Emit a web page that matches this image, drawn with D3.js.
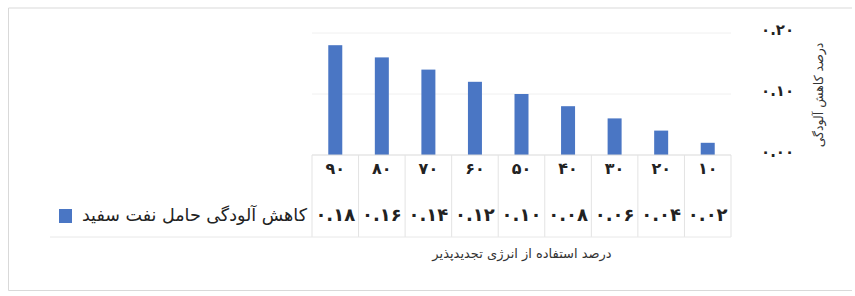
<!DOCTYPE html>
<html><head><meta charset="utf-8">
<script src="https://cdn.jsdelivr.net/npm/d3@7"></script>
<style>body{margin:0;background:#fff}svg{display:block}text{font-family:"DejaVu Sans",sans-serif}</style>
</head><body><svg id="c" width="855" height="296"></svg>
<script>
const categories = [10, 20, 30, 40, 50, 60, 70, 80, 90];
const values = [0.02, 0.04, 0.06, 0.08, 0.10, 0.12, 0.14, 0.16, 0.18];
const yTicks = [0, 0.1, 0.2];
const seriesName = "کاهش آلودگی حامل نفت سفید";
const xTitle = "درصد استفاده از انرژی تجدیدپذیر";
const yTitle = "درصد کاهش آلودگی";

const fa = s => String(s).replace(/\d/g, d => "۰۱۲۳۴۵۶۷۸۹"[d]);
const svg = d3.select("#c");
// chart border
svg.append("path").attr("d","M852,8 H8.5 V290.5 H852").attr("fill","none").attr("stroke","#d9d9d9");

const x = d3.scaleBand().domain(categories).range([731, 312]).paddingInner(0).paddingOuter(0);
const y = d3.scaleLinear().domain([0, 0.2]).range([155, 33]);

// gridlines
svg.append("g").selectAll("line").data(yTicks.slice(1)).join("line")
  .attr("x1",312).attr("x2",731).attr("y1",d=>y(d)).attr("y2",d=>y(d))
  .attr("stroke","#f0f0f0");

// bars
const bw = 14;
svg.append("g").selectAll("rect").data(categories).join("rect")
  .attr("x",(d)=>x(d)+x.bandwidth()/2-bw/2)
  .attr("y",(d,i)=>y(values[i]))
  .attr("width",bw)
  .attr("height",(d,i)=>y(0)-y(values[i]))
  .attr("fill","#4a76c4");

// y axis labels (right)
const yAxis = d3.axisRight(y).tickValues(yTicks).tickSize(0).tickFormat(d=>fa(d3.format(".2f")(d)));
const ga = svg.append("g").attr("transform","translate(758,-3)").call(yAxis);
ga.select(".domain").remove();
ga.selectAll("text").attr("font-size",15).attr("font-weight","bold").attr("fill","#222");

// y title
svg.append("text").attr("transform","translate(823,95) rotate(-90)")
  .attr("text-anchor","middle").attr("font-size",12.5).attr("fill","#333").text(yTitle);

// data table
const tg = svg.append("g");
tg.append("line").attr("x1",312).attr("x2",731).attr("y1",y(0)).attr("y2",y(0)).attr("stroke","#d9d9d9");
const bounds = categories.map(c=>x(c)).concat([x(categories[0])+x.bandwidth()]);
tg.selectAll("line.v").data(bounds).join("line").attr("class","v")
  .attr("x1",d=>d).attr("x2",d=>d).attr("y1",y(0)).attr("y2",237).attr("stroke","#e3e3e3");
tg.append("line").attr("x1",50).attr("x2",731).attr("y1",237).attr("y2",237).attr("stroke","#e8e8e8");

// category labels
const xAxis = d3.axisBottom(x).tickSize(0).tickFormat(d=>fa(d));
const gx = svg.append("g").attr("transform","translate(0,160)").call(xAxis);
gx.select(".domain").remove();
gx.selectAll("text").attr("font-size",16).attr("font-weight","bold").attr("fill","#222");

// values row
tg.selectAll("text.val").data(categories).join("text").attr("class","val")
  .attr("x",d=>x(d)+x.bandwidth()/2).attr("y",221).attr("text-anchor","middle")
  .attr("font-size",18).attr("font-weight","bold").attr("fill","#222")
  .text((d,i)=>fa(d3.format(".2f")(values[i])));

// legend
svg.append("rect").attr("x",59).attr("y",209).attr("width",13).attr("height",14).attr("fill","#4a76c4");
svg.append("text").attr("x",307).attr("y",221).attr("text-anchor","start").attr("direction","rtl")
  .attr("font-size",17.5).attr("fill","#222").text(seriesName);

// x title
svg.append("text").attr("x",522).attr("y",258).attr("text-anchor","middle")
  .attr("font-size",13).attr("fill","#333").text(xTitle);
</script></body></html>
